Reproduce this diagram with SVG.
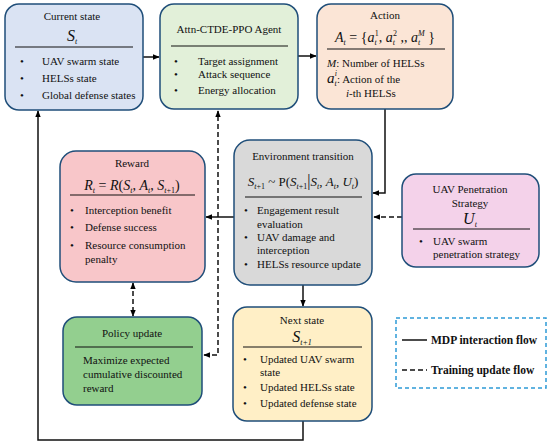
<svg xmlns="http://www.w3.org/2000/svg" width="550" height="446" viewBox="0 0 550 446" font-family="'Liberation Serif', 'DejaVu Serif', serif">
<defs>
<marker id="ah" viewBox="0 0 10 10" refX="9" refY="5" markerWidth="7" markerHeight="7" orient="auto-start-reverse" markerUnits="userSpaceOnUse"><path d="M0,1 L10,5 L0,9 Z" fill="#000"/></marker>
</defs>
<style>
.box{stroke:#1f4e79;stroke-width:1.5}
text{font-family:'Liberation Serif','DejaVu Serif',serif;font-size:11px;fill:#111}
.t{text-anchor:middle}
.m{font-style:italic}
.big{font-size:16px}
.sub{font-size:8px}
.sep{stroke:#111;stroke-width:1.2}
.c{fill:none;stroke:#111;stroke-width:1.5}
.d{stroke-dasharray:5,3}
.lg{font-weight:bold;font-size:11.5px}
</style>
<rect width="550" height="446" fill="#fff"/>

<g id="connectors">
<path class="c" d="M143,57 H159" marker-end="url(#ah)"/>
<path class="c" d="M298,56 H316" marker-end="url(#ah)"/>
<path class="c" d="M385,109 V193 H373" marker-end="url(#ah)"/>
<path class="c" d="M234,217 H206" marker-end="url(#ah)"/>
<path class="c d" d="M402,217 H374" marker-end="url(#ah)"/>
<path class="c" d="M303,285 V306" marker-end="url(#ah)"/>
<path class="c" d="M303,421 V440 H38 V111" marker-end="url(#ah)"/>
<path class="c d" d="M204,355 H218 V111" marker-start="url(#ah)" marker-end="url(#ah)"/>
<path class="c d" d="M133,283 V316" marker-start="url(#ah)" marker-end="url(#ah)"/>
</g>

<g id="current-state">
<rect class="box" x="5" y="4" width="138" height="106" rx="14" fill="#dae3f3"/>
<text class="t" x="72" y="20">Current state</text>
<text class="t m big" x="72" y="41">S<tspan class="sub" dy="3">t</tspan></text>
<line class="sep" x1="15" y1="47" x2="133" y2="47"/>
<text x="20" y="65">•</text><text x="42" y="65">UAV swarm state</text>
<text x="20" y="82">•</text><text x="42" y="82">HELSs state</text>
<text x="20" y="99">•</text><text x="42" y="99">Global defense states</text>
</g>

<g id="agent">
<rect class="box" x="160" y="4" width="138" height="105" rx="14" fill="#e2f0d9"/>
<text class="t" x="229" y="33">Attn-CTDE-PPO Agent</text>
<line class="sep" x1="171" y1="46" x2="288" y2="46"/>
<text x="174" y="65">•</text><text x="198" y="65">Target assignment</text>
<text x="174" y="78">•</text><text x="198" y="78">Attack sequence</text>
<text x="174" y="94">•</text><text x="198" y="94">Energy allocation</text>
</g>

<g id="action">
<rect class="box" x="317" y="4" width="136" height="105" rx="14" fill="#fbe5d6"/>
<text class="t" x="385" y="19">Action</text>
<text class="t" x="385" y="42" style="font-size:14px"><tspan class="m">A</tspan><tspan class="m sub" dy="3">t</tspan><tspan dy="-3"> = {</tspan><tspan class="m">a</tspan><tspan class="m sub" dy="3">t</tspan><tspan class="sub" dx="-2" dy="-9">1</tspan><tspan dy="6">, </tspan><tspan class="m">a</tspan><tspan class="m sub" dy="3">t</tspan><tspan class="sub" dx="-2" dy="-9">2</tspan><tspan dy="6"> ,, </tspan><tspan class="m">a</tspan><tspan class="m sub" dy="3">t</tspan><tspan class="m sub" dx="-2" dy="-9">M</tspan><tspan dy="6"> }</tspan></text>
<line class="sep" x1="327" y1="49" x2="445" y2="49"/>
<text x="327" y="67"><tspan class="m">M</tspan>: Number of  HELSs</text>
<text x="327" y="83"><tspan class="m" style="font-size:15px">a</tspan><tspan class="m sub" dy="3">t</tspan><tspan class="m sub" dx="-2" dy="-10">i</tspan><tspan dy="7">: Action of the</tspan></text>
<text x="346" y="97"><tspan class="m">i</tspan>-th HELSs</text>
</g>

<g id="reward">
<rect class="box" x="60" y="151" width="145" height="131" rx="16" fill="#f8c6c9"/>
<text class="t" x="132" y="167">Reward</text>
<text class="t" x="132" y="190" style="font-size:14px"><tspan class="m">R</tspan><tspan class="m sub" dy="3">t</tspan><tspan dy="-3"> = </tspan><tspan class="m">R</tspan>(<tspan class="m">S</tspan><tspan class="m sub" dy="3">t</tspan><tspan dy="-3">, </tspan><tspan class="m">A</tspan><tspan class="m sub" dy="3">t</tspan><tspan dy="-3">, </tspan><tspan class="m">S</tspan><tspan class="sub" dy="3"><tspan class="m">t</tspan>+1</tspan><tspan dy="-3">)</tspan></text>
<line class="sep" x1="70" y1="195" x2="195" y2="195"/>
<text x="70" y="214">•</text><text x="85" y="214">Interception benefit</text>
<text x="70" y="231">•</text><text x="85" y="231">Defense success</text>
<text x="70" y="249">•</text><text x="85" y="249">Resource consumption</text>
<text x="85" y="263">penalty</text>
</g>

<g id="environment">
<rect class="box" x="234" y="140" width="138" height="145" rx="16" fill="#d9d9d9"/>
<text class="t" x="303" y="160">Environment transition</text>
<text class="t" x="303" y="186" style="font-size:13px"><tspan class="m">S</tspan><tspan class="sub" dy="3"><tspan class="m">t</tspan>+1</tspan><tspan dy="-3"> ~ P(</tspan><tspan class="m">S</tspan><tspan class="sub" dy="3"><tspan class="m">t</tspan>+1</tspan><tspan dy="-3" style="font-size:16px">|</tspan><tspan class="m">S</tspan><tspan class="m sub" dy="3">t</tspan><tspan dy="-3">, </tspan><tspan class="m">A</tspan><tspan class="m sub" dy="3">t</tspan><tspan dy="-3">, </tspan><tspan class="m">U</tspan><tspan class="m sub" dy="3">t</tspan><tspan dy="-3">)</tspan></text>
<line class="sep" x1="245" y1="197" x2="362" y2="197"/>
<text x="244" y="214">•</text><text x="257" y="214">Engagement result</text>
<text x="257" y="228">evaluation</text>
<text x="244" y="241">•</text><text x="257" y="241">UAV damage and</text>
<text x="257" y="254">interception</text>
<text x="244" y="268">•</text><text x="257" y="268">HELSs resource update</text>
</g>

<g id="uav-penetration">
<rect class="box" x="402" y="174" width="137" height="93" rx="14" fill="#f4d2ea"/>
<text class="t" x="470" y="193">UAV  Penetration</text>
<text class="t" x="470" y="207">Strategy</text>
<text class="t m big" x="470" y="224">U<tspan class="sub" dy="3">t</tspan></text>
<line class="sep" x1="413" y1="229" x2="530" y2="229"/>
<text x="419" y="245">•</text><text x="433" y="245">UAV swarm</text>
<text x="433" y="258">penetration strategy</text>
</g>

<g id="policy-update">
<rect class="box" x="63" y="317" width="139" height="88" rx="14" fill="#93cf8f"/>
<text class="t" x="132" y="337">Policy update</text>
<line class="sep" x1="75" y1="347" x2="193" y2="347"/>
<text x="83" y="364">Maximize expected</text>
<text x="83" y="378">cumulative discounted</text>
<text x="83" y="392">reward</text>
</g>

<g id="next-state">
<rect class="box" x="233" y="307" width="139" height="114" rx="14" fill="#ffefc6"/>
<text class="t" x="302" y="324">Next state</text>
<text class="t m big" x="302" y="342">S<tspan class="sub" dy="3">t+1</tspan></text>
<line class="sep" x1="243" y1="347" x2="362" y2="347"/>
<text x="243" y="363">•</text><text x="260" y="363">Updated UAV swarm</text>
<text x="260" y="376">state</text>
<text x="243" y="391">•</text><text x="260" y="391">Updated HELSs state</text>
<text x="243" y="407">•</text><text x="260" y="407">Updated defense state</text>
</g>

<g id="legend">
<rect x="396" y="318" width="150" height="70" fill="none" stroke="#2e9bd6" stroke-width="1.5" stroke-dasharray="4,3"/>
<line x1="402" y1="340" x2="427" y2="340" stroke="#111" stroke-width="1.5"/>
<text class="lg" x="431" y="344">MDP interaction flow</text>
<line x1="402" y1="370" x2="427" y2="370" stroke="#111" stroke-width="1.5" stroke-dasharray="5,3"/>
<text class="lg" x="431" y="374">Training update flow</text>
</g>
</svg>
